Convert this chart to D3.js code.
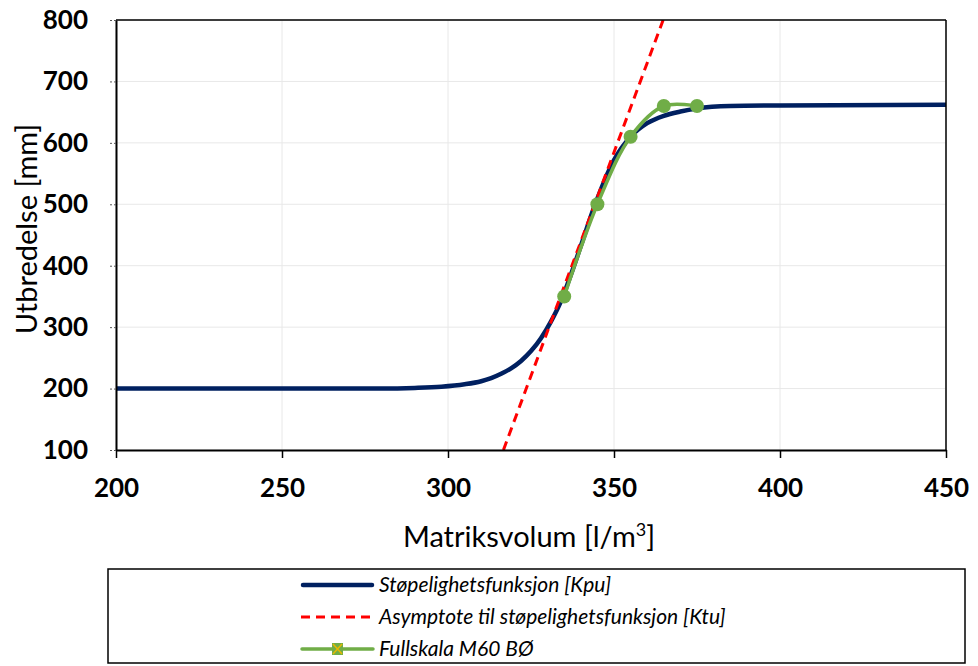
<!DOCTYPE html>
<html>
<head>
<meta charset="utf-8">
<script src="https://cdn.jsdelivr.net/npm/d3@7"></script>
<style>
  html, body { margin: 0; padding: 0; background: #fff; }
  svg { display: block; }
</style>
</head>
<body>
<svg id="chart" width="978" height="666"></svg>
<script>
// ---- Data ----
const curveX = [200, 250, 280, 290, 298, 305, 310, 313, 316, 319, 322, 325, 328, 331, 334, 337, 340, 344, 350, 355, 360, 365, 370, 375, 385, 400, 450];
const curveY = [200, 200, 200, 201, 203, 207, 212, 217, 224, 233, 245, 261, 282, 309, 342, 385, 432, 495, 572, 610, 632, 644, 651, 656, 660, 661, 662];
const asymX = [316.7, 364.8];
const asymY = [100, 800];
const testX = [335, 345, 355, 365, 375];
const testY = [350, 500, 610, 660, 660];
const xTicks = [200, 250, 300, 350, 400, 450];
const yTicks = [100, 200, 300, 400, 500, 600, 700, 800];
const seriesNames = ["Støpelighetsfunksjon [Kpu]", "Asymptote til støpelighetsfunksjon [Ktu]", "Fullskala M60 BØ"];

const colBlue = "#002060", colRed = "#ff0000", colGreen = "#70ad47";
const fontFam = "Lato, 'Open Sans', sans-serif";

const svg = d3.select("#chart");
const L = 116, R = 946, T = 20, B = 450;
const x = d3.scaleLinear().domain([200, 450]).range([L, R]);
const y = d3.scaleLinear().domain([100, 800]).range([B, T]);

// gridlines
const grid = svg.append("g");
grid.selectAll("line.h").data(yTicks).join("line")
  .attr("x1", L).attr("x2", R).attr("y1", d => y(d)).attr("y2", d => y(d))
  .attr("stroke", "#e8e8e8").attr("stroke-width", 1);
grid.selectAll("line.v").data(xTicks).join("line")
  .attr("y1", T).attr("y2", B).attr("x1", d => x(d)).attr("x2", d => x(d))
  .attr("stroke", "#e8e8e8").attr("stroke-width", 1);

// clip
svg.append("defs").append("clipPath").attr("id", "clip")
  .append("rect").attr("x", L).attr("y", T).attr("width", R - L).attr("height", B - T);

const plot = svg.append("g").attr("clip-path", "url(#clip)");

// blue curve
const curveData = curveX.map((d, i) => [d, curveY[i]]);
plot.append("path").datum(curveData)
  .attr("d", d3.line().x(d => x(d[0])).y(d => y(d[1])).curve(d3.curveMonotoneX))
  .attr("fill", "none").attr("stroke", colBlue).attr("stroke-width", 4.5);

// red asymptote
const asymData = asymX.map((d, i) => [d, asymY[i]]);
plot.append("path").datum(asymData)
  .attr("d", d3.line().x(d => x(d[0])).y(d => y(d[1])))
  .attr("fill", "none").attr("stroke", colRed).attr("stroke-width", 3)
  .attr("stroke-dasharray", "9,6");

// green test series
const testData = testX.map((d, i) => [d, testY[i]]);
svg.append("path").datum(testData)
  .attr("d", d3.line().x(d => x(d[0])).y(d => y(d[1])).curve(d3.curveCatmullRom.alpha(0.5)))
  .attr("fill", "none").attr("stroke", colGreen).attr("stroke-width", 3.5);
svg.selectAll("circle.pt").data(testData).join("circle")
  .attr("cx", d => x(d[0])).attr("cy", d => y(d[1])).attr("r", 7)
  .attr("fill", colGreen);

// axes
const xAxis = svg.append("g").attr("transform", `translate(0,${B})`)
  .call(d3.axisBottom(x).tickValues(xTicks).tickSize(8).tickSizeOuter(0).tickPadding(21));
xAxis.select(".domain").attr("stroke", "#000").attr("stroke-width", 2);
xAxis.selectAll(".tick line").attr("stroke", "#000").attr("stroke-width", 1.5);
xAxis.selectAll("text").attr("font-family", fontFam).attr("font-weight", "bold")
  .attr("font-size", 26).attr("fill", "#000");

const yAxis = svg.append("g").attr("transform", `translate(${L},0)`)
  .call(d3.axisLeft(y).tickValues(yTicks).tickSize(7).tickSizeOuter(0).tickPadding(21));
yAxis.select(".domain").attr("stroke", "#000").attr("stroke-width", 2);
yAxis.selectAll(".tick line").attr("stroke", "#555").attr("stroke-width", 1).attr("stroke-dasharray", "2,2");
yAxis.selectAll("text").attr("font-family", fontFam).attr("font-weight", "bold")
  .attr("font-size", 26).attr("fill", "#000");

// top and right borders
svg.append("line").attr("x1", L).attr("x2", R).attr("y1", T).attr("y2", T)
  .attr("stroke", "#000").attr("stroke-width", 1.5);
svg.append("line").attr("x1", R).attr("x2", R).attr("y1", T).attr("y2", B)
  .attr("stroke", "#000").attr("stroke-width", 1.5);

// axis titles
const xt = svg.append("text").attr("x", 529).attr("y", 547).attr("text-anchor", "middle")
  .attr("font-family", fontFam).attr("font-size", 29).attr("fill", "#000");
xt.append("tspan").text("Matriksvolum [l/m");
xt.append("tspan").attr("font-size", 18).attr("dy", -11).text("3");
xt.append("tspan").attr("dy", 11).text("]");

svg.append("text").attr("transform", "translate(37,229) rotate(-90)")
  .attr("text-anchor", "middle").attr("font-family", fontFam).attr("font-size", 29)
  .attr("fill", "#000").text("Utbredelse [mm]");

// legend
const lg = svg.append("g");
lg.append("rect").attr("x", 108).attr("y", 569).attr("width", 857).attr("height", 94)
  .attr("fill", "#fff").attr("stroke", "#000").attr("stroke-width", 1.5);
const rows = [585, 617, 649];
// blue
lg.append("line").attr("x1", 303).attr("x2", 372).attr("y1", rows[0]).attr("y2", rows[0])
  .attr("stroke", colBlue).attr("stroke-width", 4.5).attr("stroke-linecap", "round");
// red
lg.append("line").attr("x1", 301).attr("x2", 374).attr("y1", rows[1]).attr("y2", rows[1])
  .attr("stroke", colRed).attr("stroke-width", 3).attr("stroke-dasharray", "9,6");
// green
lg.append("line").attr("x1", 302).attr("x2", 373).attr("y1", rows[2]).attr("y2", rows[2])
  .attr("stroke", colGreen).attr("stroke-width", 3.5).attr("stroke-linecap", "round");
lg.append("rect").attr("x", 332).attr("y", rows[2] - 6).attr("width", 11).attr("height", 12)
  .attr("fill", colGreen);
lg.append("path").attr("d", `M${333},${rows[2]-5}L${342},${rows[2]+5}M${342},${rows[2]-5}L${333},${rows[2]+5}`)
  .attr("stroke", "#e8b800").attr("stroke-width", 1.5);
lg.selectAll("text.lt").data(seriesNames).join("text")
  .attr("x", 379).attr("y", (d, i) => rows[i] + 7)
  .attr("font-family", fontFam).attr("font-style", "italic").attr("font-size", 21)
  .attr("fill", "#000").text(d => d);
</script>
</body>
</html>
